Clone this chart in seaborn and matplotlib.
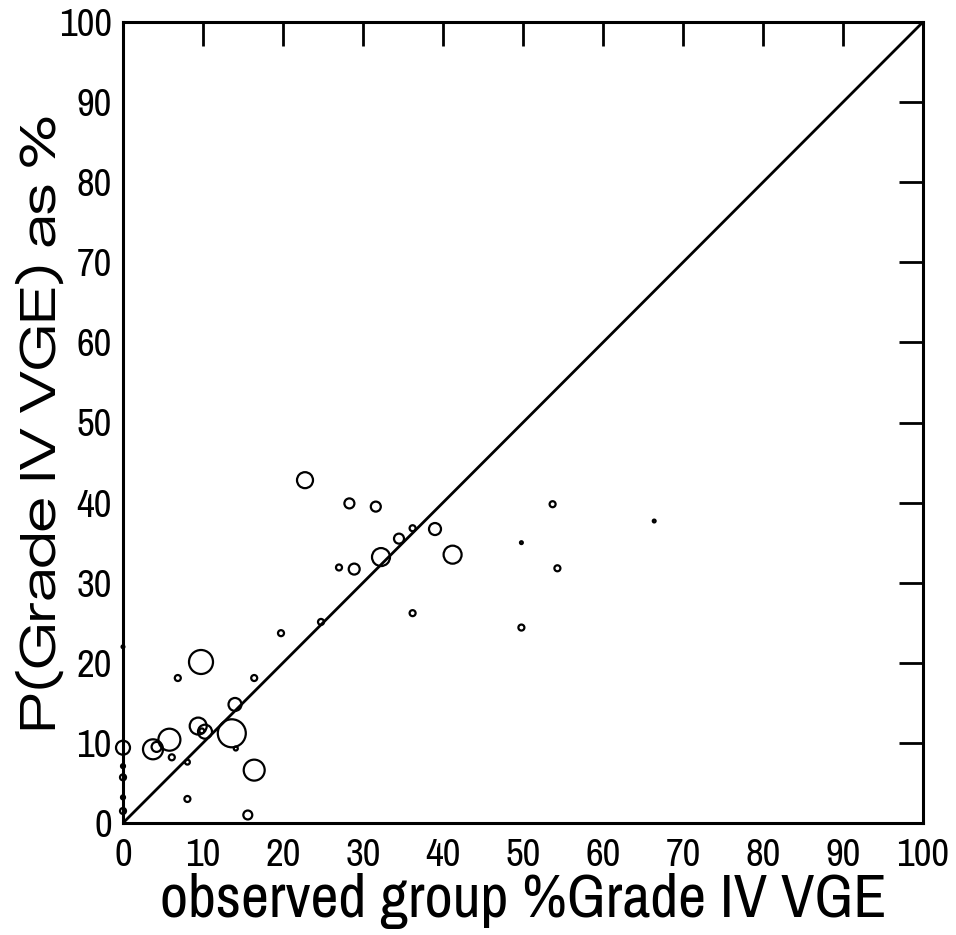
import matplotlib
matplotlib.use("Agg")
import matplotlib.pyplot as plt
import seaborn as sns
import pandas as pd
import numpy as np

# observed group % Grade IV VGE
observed = [0.0, 0.0, 0.0, 0.0, 0.0, 0.0, 3.75, 4.2, 5.8, 6.1, 6.85, 9.75, 8.05, 8.05,
            9.4, 9.85, 10.25, 13.6, 14.1, 14.0, 16.4, 16.4, 15.6, 19.75, 24.75, 22.75,
            28.3, 31.6, 27.0, 28.9, 32.25, 34.5, 36.2, 36.2, 39.0, 41.2, 49.8, 49.8,
            53.7, 54.3, 66.4]
# predicted P(Grade IV VGE) as %
predicted = [22.0, 9.4, 7.1, 5.7, 3.2, 1.5, 9.2, 9.5, 10.4, 8.2, 18.1, 20.1, 7.6, 3.0,
             12.1, 11.5, 11.4, 11.2, 9.3, 14.8, 18.1, 6.6, 1.0, 23.7, 25.1, 42.8,
             39.9, 39.5, 31.9, 31.7, 33.2, 35.5, 36.8, 26.2, 36.7, 33.5, 35.0, 24.4,
             39.8, 31.8, 37.7]
# group size (marker area)
group_n = [2, 49, 4, 9, 4, 9, 100, 25, 121, 9, 9, 144, 6, 9,
           72, 6, 49, 196, 4, 42, 9, 110, 20, 9, 9, 64,
           25, 25, 9, 30, 81, 25, 9, 9, 36, 81, 2, 9,
           9, 9, 2]
identity = [0, 100]

df = pd.DataFrame({"observed": observed, "predicted": predicted, "n": group_n})
ref = pd.DataFrame({"x": identity, "y": identity})

sns.set_style("white")
plt.rcParams["font.family"] = ["Archivo Narrow", "DejaVu Sans"]

fig = plt.figure(figsize=(9.56, 9.35), dpi=100)
ax = fig.add_axes([123/956, 1 - 823/935, 800/956, 801/935])

k = (2 * 0.72) ** 2
nmin, nmax = min(group_n), max(group_n)
sns.scatterplot(data=df, x="observed", y="predicted", size="n",
                sizes=(k * nmin, k * nmax), legend=False, ax=ax,
                marker="o", color="black", clip_on=False, zorder=3)
coll = ax.collections[0]
coll.set_facecolor("none")
coll.set_edgecolor("black")
coll.set_linewidth(1.6)

sns.lineplot(data=ref, x="x", y="y", color="black", linewidth=2, ax=ax)

ax.set_xlim(0, 100)
ax.set_ylim(0, 100)
ax.set_xticks(np.arange(0, 101, 10))
ax.set_yticks(np.arange(0, 101, 10))
for s in ax.spines.values():
    s.set_visible(True)
    s.set_linewidth(2.2)
    s.set_color("black")
ax.tick_params(direction="in", length=17, width=2, top=True, right=True,
               labelsize=28, colors="black")
ax.tick_params(axis="x", pad=11)
ax.tick_params(axis="y", pad=8)
ax.set_xlabel("observed group %Grade IV VGE", fontsize=44, labelpad=0, color="black")
ax.set_ylabel("P(Grade IV VGE) as %", fontsize=35.5, labelpad=-4, color="black",
              family=["Zalando Sans Expanded", "DejaVu Sans"])

fig.savefig("out.png", dpi=100)
